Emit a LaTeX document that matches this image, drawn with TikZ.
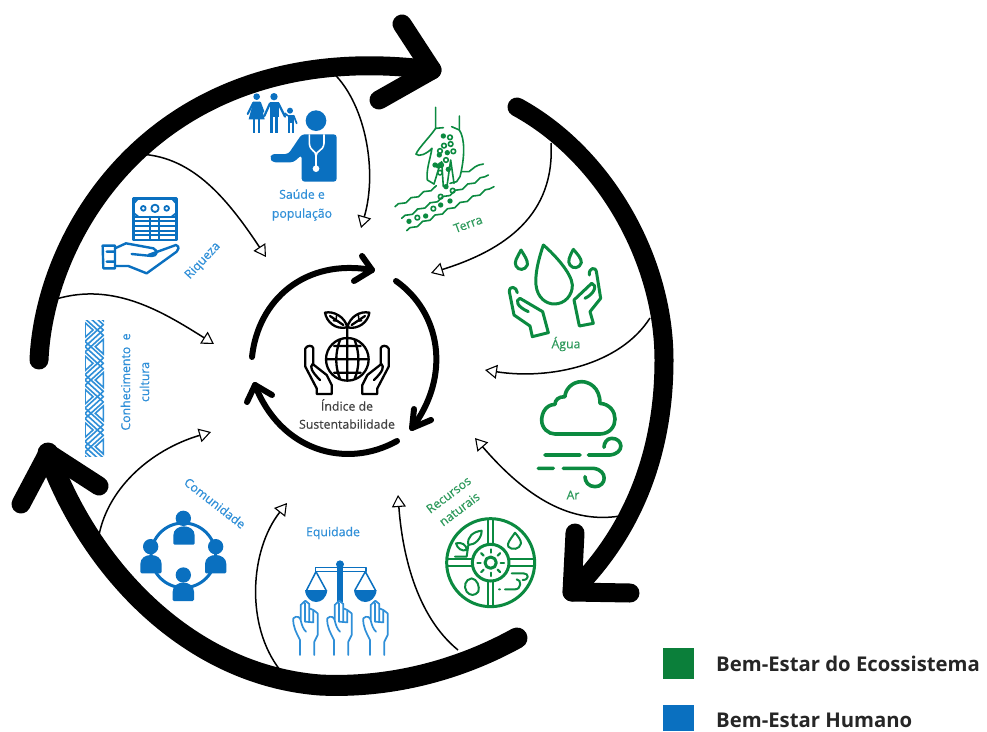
\documentclass[tikz,border=0pt]{standalone}
\usepackage{fontspec}
\setmainfont{Open Sans}
\newfontfamily\labfont[FakeBold=0.35]{Open Sans}
\usetikzlibrary{arrows.meta,decorations.pathmorphing}
\definecolor{gr}{HTML}{0B8A40}
\definecolor{bl}{HTML}{0A70C0}
\definecolor{lbl}{HTML}{2F8FD8}
\definecolor{lgr}{HTML}{2E9A5C}
\definecolor{leg}{HTML}{0B7F3A}
\tikzset{
 bigarc/.style={line width=19pt,line cap=round,line join=round,black},
 innerarc/.style={line width=6pt,line cap=round,line join=round,black},
 thinarrow/.style={line width=1.5pt,black,-{Triangle[open,fill=white,length=12pt,width=14pt,line width=1.1pt]}},
 bluelabel/.style={text=lbl,font=\labfont\fontsize{12.3}{19}\selectfont,align=center,inner sep=0pt},
 greenlabel/.style={text=lgr,font=\labfont\fontsize{12.3}{18}\selectfont,align=center,inner sep=0pt},
 legendtext/.style={text=black!85,font=\fontsize{20.3}{22}\selectfont\bfseries,anchor=west,inner sep=0pt},
 gicon/.style={draw=gr,line width=3pt,line cap=round,line join=round},
 gthin/.style={draw=gr,line width=1.6pt,line cap=round,line join=round},
 bicon/.style={draw=bl,line width=2.4pt,line cap=round,line join=round},
 kicon/.style={draw=black,line width=2.3pt,line cap=round,line join=round},
}
\begin{document}
\begin{tikzpicture}[x=1pt,y=-1pt]
\useasboundingbox (0,0) rectangle (987,731);
\fill[white] (0,0) rectangle (987,731);
% outer arcs
\coordinate (o1s) at (39,360); \coordinate (o1e) at (432,70);
\coordinate (o1a) at (402,24); \coordinate (o1b) at (379,100);
\coordinate (o2s) at (517,107); \coordinate (o2m) at (664,360); \coordinate (o2e) at (572,592);
\coordinate (o2a) at (575,533); \coordinate (o2b) at (630,593);
\coordinate (o3s) at (517,638); \coordinate (o3m) at (320,685); \coordinate (o3e) at (48,453);
\coordinate (o3a) at (21,504); \coordinate (o3b) at (99,486);
\draw[bigarc] (o1s) .. controls (45,225) and (165,35) .. (o1e);
\draw[bigarc] (o1a) -- (o1e) -- (o1b);
\draw[bigarc] (o2s) .. controls (605,155) and (664,260) .. (o2m) .. controls (664,450) and (635,530) .. (o2e);
\draw[bigarc] (o2a) -- (o2e) -- (o2b);
\draw[bigarc,line width=21pt] (o3s) .. controls (450,675) and (380,688) .. (o3m) .. controls (190,675) and (90,570) .. (o3e);
\draw[bigarc] (o3a) -- (o3e) -- (o3b);
% inner arcs
\coordinate (i1s) at (252,357); \coordinate (i1e) at (372,270);
\coordinate (i1a) at (362,256); \coordinate (i1b) at (354,281);
\coordinate (i2s) at (396,281); \coordinate (i2e) at (412,428);
\coordinate (i2a) at (414,409); \coordinate (i2b) at (431,420);
\coordinate (i3s) at (397,441); \coordinate (i3e) at (255,385);
\coordinate (i3a) at (247,402); \coordinate (i3b) at (272,395);
\draw[innerarc] (i1s) .. controls (258,300) and (305,258) .. (i1e);
\draw[innerarc] (i1a) -- (i1e) -- (i1b);
\draw[innerarc] (i2s) .. controls (440,312) and (452,375) .. (i2e);
\draw[innerarc] (i2a) -- (i2e) -- (i2b);
\draw[innerarc] (i3s) .. controls (345,470) and (280,450) .. (i3e);
\draw[innerarc] (i3a) -- (i3e) -- (i3b);
% thin connectors
\coordinate (t1s) at (330,70); \coordinate (t1e) at (361,228);
\coordinate (t2s) at (137,154); \coordinate (t2e) at (266,257);
\coordinate (t3s) at (50,301); \coordinate (t3e) at (214,344);
\coordinate (t4s) at (98,541); \coordinate (t4e) at (211,432);
\coordinate (t5s) at (280,670); \coordinate (t5e) at (287,503);
\coordinate (t6s) at (458,650); \coordinate (t6e) at (398,495);
\coordinate (t7s) at (620,516); \coordinate (t7e) at (475,438);
\coordinate (t8s) at (650,318); \coordinate (t8e) at (485,370);
\coordinate (t9s) at (551,143); \coordinate (t9e) at (431,273);
\draw[thinarrow] (t1s) .. controls (365,100) and (378,170) .. (t1e);
\draw[thinarrow] (t2s) .. controls (190,155) and (225,195) .. (t2e);
\draw[thinarrow] (t3s) .. controls (110,280) and (160,310) .. (t3e);
\draw[thinarrow] (t4s) .. controls (105,490) and (150,450) .. (t4e);
\draw[thinarrow] (t5s) .. controls (245,625) and (250,550) .. (t5e);
\draw[thinarrow] (t6s) .. controls (415,615) and (402,550) .. (t6e);
\draw[thinarrow] (t7s) .. controls (565,525) and (520,490) .. (t7e);
\draw[thinarrow] (t8s) .. controls (620,365) and (550,380) .. (t8e);
\draw[thinarrow] (t9s) .. controls (555,215) and (505,250) .. (t9e);
% labels
\node[bluelabel] (saude) at (302,205) {Saúde e\\população};
\node[greenlabel,rotate=20] (terra) at (468,224) {Terra};
\node[greenlabel] (agua) at (566,344) {Água};
\node[greenlabel] (ar) at (573,495) {Ar};
\node[greenlabel,rotate=37] (recursos) at (454,502) {Recursos\\naturais};
\node[bluelabel,rotate=-38] (comun) at (215,503) {Comunidade};
\node[bluelabel] (equi) at (333,533) {Equidade};
\node[bluelabel,rotate=47] (riq) at (203,261) {Riqueza};
\node[bluelabel,rotate=90] (conh) at (135,382) {Conhecimento\ \ e\\cultura};
\node[text=black!75,font=\labfont\fontsize{12.3}{18}\selectfont,align=center,inner sep=0pt] (indice) at (347,414) {Índice de\\Sustentabilidade};
% legend
\node[fill=leg,minimum width=31pt,minimum height=31pt,inner sep=0pt] (lg1) at (678,663) {};
\fill[bl] (663,705) rectangle (694,731);
\node[legendtext] (t1) at (716,664) {Bem-Estar do Ecossistema};
\node[legendtext] (t2) at (716,720) {Bem-Estar Humano};
% doctor + family
\begin{scope}[shift={(230,80)},scale=1/3]
\fill[bl] (258,122) circle (31);
\fill[bl,rounded corners=3pt] (215,305) -- (320,305) -- (320,163) -- (215,163) -- (175,222) -- (125,222) -- (120,235) -- (128,247) -- (190,247) -- (215,225) -- cycle;
\draw[white,line width=1.6pt] (238,163) -- (238,190) .. controls (240,215) and (258,210) .. (258,228) -- (258,262);
\draw[white,line width=1.6pt] (282,163) -- (282,190) .. controls (280,215) and (258,210) .. (258,228);
\fill[white] (258,266) circle (10);
\fill[bl] (80,50) circle (10) (132,50) circle (11) (180,92) circle (9);
\fill[bl] (70,65) -- (90,65) -- (104,118) -- (56,118) -- cycle;
\draw[bl,line width=2.6pt] (72,115) -- (72,158) (87,115) -- (87,158);
\draw[bl,line width=2pt,line cap=round] (70,68) -- (53,102) (90,68) -- (100,95);
\fill[bl] (119,66) -- (146,66) -- (146,110) -- (119,110) -- cycle;
\draw[bl,line width=2.8pt] (125,105) -- (125,158) (140,105) -- (140,158);
\draw[bl,line width=2.2pt,line cap=round] (120,70) -- (103,108) (145,70) -- (165,110);
\fill[bl] (173,104) -- (191,104) -- (191,130) -- (173,130) -- cycle;
\draw[bl,line width=2.2pt] (176,126) -- (176,160) (188,126) -- (188,160);
\draw[bl,line width=1.7pt,line cap=round] (191,107) -- (200,130) (173,107) -- (165,100);
\end{scope}
% Terra
\begin{scope}[shift={(230,80)},scale=1/3]
\draw[gthin] (617,82) -- (617,145) .. controls (600,170) and (565,205) .. (558,222) .. controls (565,232) and (590,222) .. (606,205) .. controls (600,240) and (588,270) .. (592,300) -- (612,312);
\draw[gthin] (688,108) -- (688,150) .. controls (705,175) and (705,230) .. (690,290) -- (680,305) -- (660,310);
\draw[gthin] (617,145) -- (640,143) (665,140) -- (688,150);
\draw[gthin] (612,312) .. controls (625,270) and (630,250) .. (635,245) -- (640,320) (650,325) -- (662,240) -- (672,310);
\foreach \p in {(640,168),(652,218),(628,225),(615,255),(655,268),(625,258),(648,320),(537,424),(587,408),(632,375),(660,363)} \fill[gr] \p circle (8);
\foreach \p in {(660,172),(642,197),(662,192),(670,214),(630,213),(633,255),(648,240),(630,278),(562,413),(610,386),(632,350),(668,332)} \draw[gthin] \p circle (7);
\draw[gthin,decorate,decoration={snake,amplitude=1.2pt,segment length=14pt}] (495,380) -- (610,325) (695,275) -- (760,252);
\draw[gthin,decorate,decoration={snake,amplitude=1.2pt,segment length=14pt}] (515,415) -- (775,285);
\draw[gthin,decorate,decoration={snake,amplitude=1.2pt,segment length=14pt}] (530,452) -- (792,320);
\end{scope}
% Agua + Ar
\begin{scope}[shift={(500,240)},scale=1/3]
\draw[gicon] (130,15) .. controls (115,60) and (105,100) .. (108,135) .. controls (112,175) and (140,192) .. (163,192) .. controls (195,192) and (218,165) .. (217,135) .. controls (215,100) and (165,45) .. cycle;
\draw[gicon] (63,30) .. controls (50,55) and (42,65) .. (48,78) .. controls (55,92) and (75,92) .. (82,75) .. controls (85,62) and (72,45) .. cycle;
\draw[gicon] (220,28) .. controls (208,50) and (202,65) .. (210,75) .. controls (218,88) and (240,85) .. (244,68) .. controls (245,55) and (230,40) .. cycle;
\draw[gicon] (52,158) .. controls (50,140) and (28,135) .. (28,155) -- (42,225) -- (90,258) -- (97,290) -- (145,278) -- (128,215) -- (60,175) .. controls (45,180) and (50,200) .. (85,215);
\draw[gicon] (268,105) .. controls (265,85) and (288,75) .. (290,100) -- (302,175) -- (270,215) -- (280,250) -- (238,258) -- (222,180) -- (275,130) .. controls (292,135) and (285,160) .. (255,175);
\draw[gicon,line width=3.6pt] (165,582) -- (300,582) .. controls (360,580) and (360,495) .. (300,490) .. controls (300,440) and (265,425) .. (245,425) .. controls (215,425) and (195,450) .. (195,470) .. controls (175,470) and (165,480) .. (165,493) .. controls (130,495) and (125,530) .. (125,540) .. controls (125,565) and (145,582) .. (165,582);
\draw[gicon,line width=3.6pt] (135,645) -- (240,645) (265,645) -- (330,645) .. controls (375,640) and (370,595) .. (335,595) .. controls (320,595) and (312,610) .. (312,622);
\draw[gicon,line width=3.6pt] (115,685) -- (160,685) (190,685) -- (280,685) .. controls (325,690) and (320,740) .. (285,740) .. controls (265,740) and (255,725) .. (255,710);
\end{scope}
% Recursos
\begin{scope}[shift={(420,490)},scale=1/3]
\draw[gicon] (212,218) circle (132);
\draw[gicon] (212,218) circle (55);
\draw[gicon] (212,218) circle (17);
\draw[gicon,line width=2.2pt] (205,88) -- (205,163) (220,88) -- (220,163) (205,273) -- (205,348) (220,273) -- (220,348) (82,208) -- (158,208) (82,228) -- (158,228) (267,208) -- (342,208) (267,228) -- (342,228);
\foreach \a in {0,45,...,315} \draw[gicon,line width=2.2pt] (212,218) ++(\a:30) -- ++(\a:10);
\draw[gicon,line width=2pt] (285,128) .. controls (270,150) and (260,160) .. (265,170) .. controls (275,182) and (300,178) .. (303,160) .. controls (303,150) and (295,140) .. cycle;
\draw[gicon,line width=2pt] (145,165) .. controls (140,140) and (160,125) .. (185,122) .. controls (185,145) and (165,165) .. (145,165) -- (140,200) -- (105,200) (108,160) .. controls (125,155) and (140,165) .. (140,180) .. controls (125,185) and (112,175) .. (108,160);
\draw[gicon,line width=2pt] (155,265) .. controls (135,268) and (130,290) .. (140,305) .. controls (150,318) and (165,318) .. (175,305) .. controls (180,290) and (172,268) .. (155,265);
\draw[gicon,line width=2pt] (237,298) -- (240,298) (255,298) -- (285,298) .. controls (305,298) and (305,268) .. (290,268) (275,250) -- (310,250) .. controls (328,250) and (328,270) .. (308,270);
\end{scope}
% Scales
\begin{scope}[shift={(130,470)},scale=1/3]
\fill[bl] (630,283) circle (12);
\fill[bl] (622,295) rectangle (638,395);
\draw[bicon,line width=1.6pt] (556,292) rectangle (708,305);
\fill[bl] (525,360) .. controls (530,408) and (587,408) .. (592,360) -- cycle;
\fill[bl] (672,360) .. controls (677,408) and (735,408) .. (740,360) -- cycle;
\draw[bicon,line width=1.5pt] (530,360) -- (558,305) -- (588,360) (675,360) -- (706,305) -- (736,360);
\end{scope}
\begin{scope}[shift={(280,590)},scale=1/3]
\foreach \x in {0,102,210} {
 \draw[draw=lbl,line width=1.7pt,line join=round,line cap=round] (\x+60,195) -- (\x+60,150) .. controls (\x+50,130) and (\x+38,110) .. (\x+40,85) .. controls (\x+50,75) and (\x+60,82) .. (\x+62,90) .. controls (\x+65,105) and (\x+70,118) .. (\x+78,125) (\x+62,90) -- (\x+62,45) -- (\x+76,32) -- (\x+88,42) -- (\x+88,55) -- (\x+100,60) -- (\x+113,70) -- (\x+113,135) -- (\x+103,155) -- (\x+103,195) (\x+75,40) -- (\x+75,95) -- (\x+100,97) -- (\x+100,60) (\x+88,50) -- (\x+88,95);
}
\end{scope}
% Community
\begin{scope}[shift={(130,470)},scale=1/3]
\draw[bl,line width=3pt] (160,256) circle (97);
\foreach \x/\y in {160/145,62/230,257/230,160/315} \fill[bl] (\x,\y) circle (23);
\foreach \x/\y in {162/198,63/284,257/284,160/367} \fill[bl] (\x-32,\y+22) -- (\x-32,\y-2) .. controls (\x-32,\y-38) and (\x+32,\y-38) .. (\x+32,\y-2) -- (\x+32,\y+22) .. controls (\x+32,\y+26) and (\x+28,\y+26) .. (\x+28,\y+26) -- (\x-28,\y+26) .. controls (\x-32,\y+26) and (\x-32,\y+22) .. cycle;
\end{scope}
% Riqueza
\begin{scope}[shift={(70,180)},scale=1/3]
\draw[bicon] (190,55) rectangle (320,180);
\draw[bicon,line width=1.8pt] (190,110) -- (320,110) (190,124) -- (320,124) (190,138) -- (320,138) (190,152) -- (320,152) (190,166) -- (320,166) (240,110) -- (240,180) (268,110) -- (268,180);
\draw[bicon,line width=1.8pt] (255,85) circle (11) (220,85) circle (7) (290,85) circle (7) (190,72) -- (205,55) (320,72) -- (305,55) (190,98) -- (205,110) (320,98) -- (305,110);
\draw[bicon] (98,197) -- (135,197) -- (135,265) -- (100,265) -- cycle (110,215) -- (135,215) (110,245) -- (135,245);
\draw[bicon] (135,205) -- (168,190) -- (250,205) .. controls (265,212) and (262,228) .. (245,228) -- (185,222) (235,225) -- (318,195) .. controls (330,200) and (325,210) .. (320,215) -- (230,280) -- (175,258) -- (135,258);
\end{scope}
% Pattern
\begin{scope}[shift={(70,180)},scale=1/3]
\clip (45,420) rectangle (102,830);
\foreach \k in {0,1,2,3,4} {
 \foreach \d in {-16,0,16} {
  \draw[draw=lbl,line width=1.6pt] (45,{400+\k*100+\d}) -- (100,{450+\k*100+\d}) -- (45,{500+\k*100+\d});
 }
 \draw[draw=lbl,line width=1.6pt] (100,{378+\k*100}) -- (76,{400+\k*100}) -- (100,{422+\k*100}) -- cycle;
 \draw[draw=lbl,line width=1.6pt] (45,{428+\k*100}) -- (69,{450+\k*100}) -- (45,{472+\k*100}) -- cycle;
}
\end{scope}
% Central icon
\begin{scope}[shift={(230,250)},scale=1/3]
\draw[kicon] (352,328) circle (64);
\draw[kicon] (290,328) -- (415,328) (352,264) -- (352,392) (330,270) .. controls (315,310) and (315,350) .. (330,386) (374,270) .. controls (389,310) and (389,350) .. (374,386) (312,288) -- (392,288) (312,368) -- (392,368);
\draw[kicon] (352,264) -- (352,235) (352,232) .. controls (345,200) and (310,182) .. (285,188) .. controls (290,215) and (315,240) .. (352,232) (352,232) .. controls (360,200) and (390,182) .. (418,188) .. controls (415,215) and (385,240) .. (352,232) (300,198) -- (340,225) (405,198) -- (365,225);
\draw[kicon,line width=1.5pt] (320,195) -- (318,210) (310,212) -- (325,214) (385,195) -- (387,210) (395,212) -- (380,214);
\draw[kicon] (226,295) .. controls (232,285) and (248,285) .. (250,295) -- (250,340) (226,295) -- (226,350) -- (260,415) -- (260,432) -- (305,432) -- (305,405) -- (290,375) -- (248,342) .. controls (238,350) and (245,365) .. (270,390);
\draw[kicon] (476,295) .. controls (470,285) and (455,285) .. (452,295) -- (452,340) (476,295) -- (476,350) -- (442,415) -- (442,432) -- (397,432) -- (397,405) -- (412,375) -- (454,342) .. controls (464,350) and (458,365) .. (432,390);
\end{scope}
\end{tikzpicture}
\end{document}
